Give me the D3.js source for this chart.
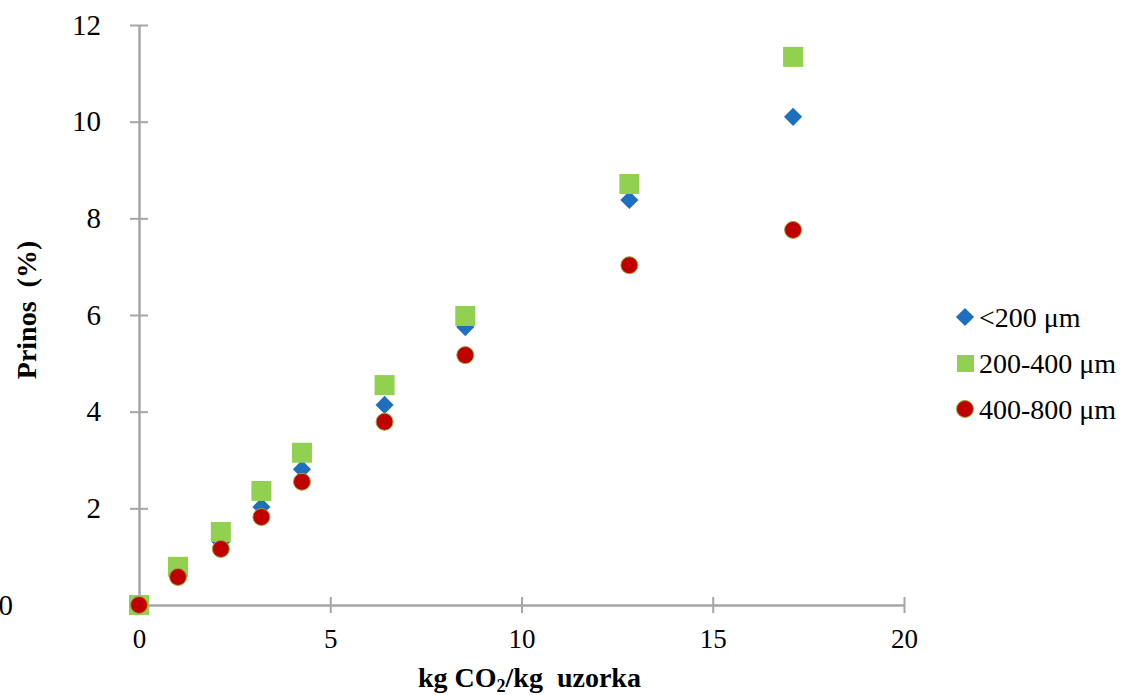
<!DOCTYPE html>
<html>
<head>
<meta charset="utf-8">
<script src="https://cdn.jsdelivr.net/npm/d3@7"></script>
<style>
  body { margin: 0; background: #fff; }
  text { font-family: "Liberation Serif", "Times New Roman", serif; }
</style>
</head>
<body>
<div id="chart"></div>
<script>
  // CO2 kg / kg sample
  const xVals = [0, 1.02, 2.14, 3.2, 4.26, 6.42, 8.53, 12.82, 17.1];
  const small = [0, 0.65, 1.3, 2.03, 2.81, 4.14, 5.75, 8.38, 10.1];
  const mid = [0, 0.79, 1.51, 2.36, 3.15, 4.55, 5.98, 8.71, 11.34];
  const large = [0, 0.58, 1.16, 1.82, 2.55, 3.79, 5.17, 7.03, 7.76];
  const seriesNames = ["<200 μm", "200-400 μm", "400-800 μm"];
  const xTicks = [0, 5, 10, 15, 20];
  const yTicks = [0, 2, 4, 6, 8, 10, 12];

  const width = 1125, height = 695;
  const svg = d3.select("#chart")
    .append("svg")
    .attr("width", width)
    .attr("height", height);

  const x = d3.scaleLinear().domain([0, 20]).range([139, 904]);
  const y = d3.scaleLinear().domain([0, 12]).range([605, 25]);

  const axisColor = "#a6a6a6";

  const gx = svg.append("g")
    .attr("transform", `translate(0,${y(0)})`)
    .call(d3.axisBottom(x).tickValues(xTicks).tickSize(0).tickPadding(24));
  gx.select(".domain").attr("stroke", axisColor).attr("stroke-width", 2.5);
  gx.selectAll(".tick").append("line")
    .attr("y1", -8).attr("y2", 8)
    .attr("stroke", axisColor).attr("stroke-width", 2);
  gx.selectAll("text")
    .attr("font-size", 27).attr("fill", "#000")
    .style("font-family", "Liberation Serif");

  const gy = svg.append("g")
    .attr("transform", `translate(${x(0)},0)`)
    .call(d3.axisLeft(y).tickValues(yTicks).tickSize(0).tickPadding(38));
  gy.select(".domain").attr("stroke", axisColor).attr("stroke-width", 2.5);
  gy.selectAll(".tick").append("line")
    .attr("x1", -9).attr("x2", 9)
    .attr("stroke", axisColor).attr("stroke-width", 2);
  gy.selectAll("text")
    .attr("font-size", 29).attr("fill", "#000")
    .style("font-family", "Liberation Serif");
  gy.selectAll(".tick").filter(d => d === 0).select("text").attr("dx", -88);

  // axis titles
  const xt = svg.append("text")
    .attr("x", 418).attr("y", 687)
    .attr("font-size", 28).attr("font-weight", "bold")
    .attr("xml:space", "preserve");
  xt.append("tspan").text("kg CO");
  xt.append("tspan").text("2").attr("font-size", 18).attr("dy", 5);
  xt.append("tspan").text("/kg  uzorka").attr("dy", -5);

  svg.append("text")
    .attr("transform", "translate(36,310) rotate(-90)")
    .attr("text-anchor", "middle")
    .attr("font-size", 28).attr("font-weight", "bold")
    .attr("xml:space", "preserve")
    .text("Prinos  (%)");

  const colors = ["#1f6fbf", "#92d050", "#c00000"];
  const data = [small, mid, large];

  function drawMarker(sel, i) {
    if (i === 0) {
      sel.append("path")
        .attr("d", d3.symbol(d3.symbolDiamond2, 210)())
        .attr("fill", colors[0]);
    } else if (i === 1) {
      sel.append("rect")
        .attr("x", -10).attr("y", -10).attr("width", 20).attr("height", 20)
        .attr("fill", colors[1]);
    } else {
      sel.append("circle")
        .attr("r", 8.5)
        .attr("fill", colors[2])
        .attr("stroke", "#9aa83a").attr("stroke-width", 1);
    }
  }

  data.forEach((vals, i) => {
    svg.append("g").selectAll("g")
      .data(xVals.map((xv, j) => ({ x: xv, y: vals[j] })))
      .enter()
      .append("g")
      .attr("transform", d => `translate(${x(d.x)},${y(d.y)})`)
      .each(function() { drawMarker(d3.select(this), i); });
  });

  // legend
  const legend = svg.append("g").attr("transform", "translate(965,317)");
  seriesNames.forEach((name, i) => {
    const row = legend.append("g").attr("transform", `translate(0,${i * 46})`);
    drawMarker(row, i);
    row.select("rect").attr("x", -8).attr("y", -8).attr("width", 17).attr("height", 17);
    row.append("text")
      .attr("x", 14).attr("y", 10)
      .attr("font-size", 28)
      .text(name);
  });
</script>
</body>
</html>
